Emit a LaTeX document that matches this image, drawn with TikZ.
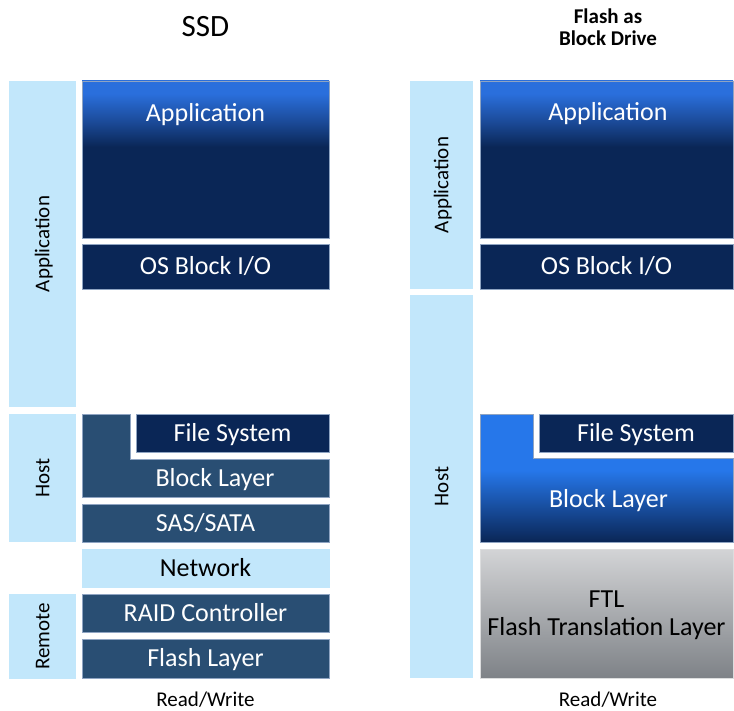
\documentclass[tikz,border=0pt]{standalone}
\usepackage{fontspec}
\setmainfont{Carlito}

% palette
\definecolor{sidebg}{HTML}{C2E7FB}
\definecolor{navy}{HTML}{0A2656}
\definecolor{slate}{HTML}{294E73}
\definecolor{appblue}{HTML}{2A6FDC}
\definecolor{appmid}{HTML}{1B4A98}
\definecolor{blkblue}{HTML}{2677EA}
\definecolor{edge}{HTML}{8FA4C2}
\definecolor{ftltop}{HTML}{D3D4D6}
\definecolor{ftlbot}{HTML}{7E8287}

% vertical gradients (stops run bottom to top; the path spans 25bp..75bp)
\pgfdeclareverticalshading{appgrad}{100bp}{color(0bp)=(navy); color(54bp)=(navy); color(62bp)=(appmid); color(71bp)=(appblue); color(100bp)=(appblue)}
\pgfdeclareverticalshading{blkgrad}{100bp}{color(0bp)=(navy); color(25bp)=(navy); color(53bp)=(blkblue); color(100bp)=(blkblue)}

\tikzset{
  every node/.style={inner sep=0pt, outer sep=0pt},
  bigtext/.style={font=\fontsize{26}{28}\selectfont, text height=16.7pt, text depth=0pt},
  smalltext/.style={font=\fontsize{21}{22.5}\selectfont, text height=13.5pt, text depth=0pt},
  layer/.style={draw=edge, line width=0.6pt, text=white, bigtext, anchor=north west},
  navybox/.style={layer, fill=navy},
  slatebox/.style={layer, fill=slate},
  sidebar/.style={fill=sidebg, anchor=north west},
  sidelabel/.style={smalltext, rotate=90},
  boxlabel/.style={bigtext, text=white},
}

\begin{document}
\begin{tikzpicture}[x=1pt, y=-1pt]
\useasboundingbox (0,0) rectangle (734,711);

% ---------------- left stack: SSD ----------------
\node[font=\fontsize{31}{33}\selectfont, text height=20pt, text depth=0pt] (ssdtitle) at (205.5,26.7) {SSD};

\node[sidebar, minimum width=67pt, minimum height=326pt] (lsapp) at (9,81) {};
\node[sidebar, minimum width=67pt, minimum height=128pt] (lshost) at (9,414) {};
\node[sidebar, minimum width=67pt, minimum height=85pt] (lsrem) at (9,594) {};
\node[sidelabel] (lsapplbl) at (lsapp.center) {Application};
\node[sidelabel] (lshostlbl) at (lshost.center) {Host};
\node[sidelabel] (lsremlbl) at (lsrem.center) {Remote};

\node[layer, shading=appgrad, minimum width=247pt, minimum height=157pt] (lapp) at (82,81) {};
\node[boxlabel] (lapplbl) at (205.5,113) {Application};
\node[navybox, minimum width=247pt, minimum height=45pt] (los) at (82,244) {OS Block I/O};

\path[draw=edge, line width=0.6pt, fill=slate]
  (82,414) -- (130,414) -- (130,459) -- (329,459) -- (329,497) -- (82,497) -- cycle;
\node[boxlabel] (lblk) at (215,478) {Block Layer};
\node[navybox, minimum width=193pt, minimum height=38pt] (lfs) at (136,414) {File System};
\node[slatebox, minimum width=247pt, minimum height=38pt] (lsas) at (82,504) {SAS/SATA};
\node[layer, fill=sidebg, draw=sidebg, text=black, minimum width=247pt, minimum height=38pt] (lnet) at (82,549) {Network};
\node[slatebox, minimum width=247pt, minimum height=38pt] (lraid) at (82,594) {RAID Controller};
\node[slatebox, minimum width=247pt, minimum height=39pt] (lflash) at (82,639) {Flash Layer};

\node[smalltext] (lrw) at (205.5,700) {Read/Write};

% ---------------- right stack: flash as block drive ----------------
\node[font=\fontsize{21}{22.4}\selectfont\bfseries, align=center, text height=35.9pt, text depth=0pt] (rtitle) at (608,27.8) {Flash as\\Block Drive};

\node[sidebar, minimum width=63pt, minimum height=208pt] (rsapp) at (410,81) {};
\node[sidebar, minimum width=63pt, minimum height=383pt] (rshost) at (410,295) {};
\node[sidelabel] (rsapplbl) at (rsapp.center) {Application};
\node[sidelabel] (rshostlbl) at (rshost.center) {Host};

\node[layer, shading=appgrad, minimum width=253pt, minimum height=157pt] (rapp) at (480,81) {};
\node[boxlabel] (rapplbl) at (608,112) {Application};
\node[navybox, minimum width=253pt, minimum height=45pt] (ros) at (480,244) {OS Block I/O};

\path[draw=edge, line width=0.6pt, shading=blkgrad]
  (480,414) -- (533,414) -- (533,458) -- (733,458) -- (733,542) -- (480,542) -- cycle;
\node[boxlabel] (rblk) at (608.5,499.5) {Block Layer};
\node[navybox, minimum width=194pt, minimum height=38pt] (rfs) at (539,414) {File System};

\node[layer, draw=ftltop!80!white, top color=ftltop, bottom color=ftlbot, text=black,
      align=center, text height=44.7pt, text depth=0pt,
      minimum width=253pt, minimum height=129pt] (rftl) at (480,549) {FTL\\Flash Translation Layer};

\node[smalltext] (rrw) at (608,700) {Read/Write};
\end{tikzpicture}
\end{document}
